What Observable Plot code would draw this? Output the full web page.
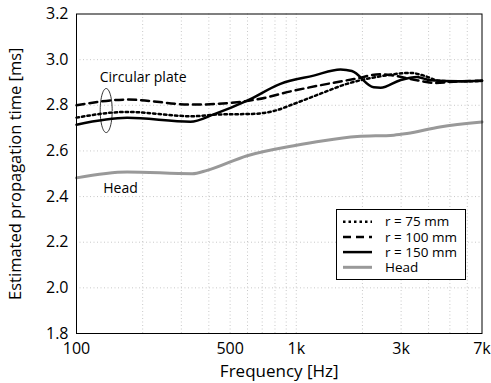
<!DOCTYPE html>
<html><head><meta charset="utf-8">
<script src="https://cdn.jsdelivr.net/npm/d3@7"></script>
<script src="https://cdn.jsdelivr.net/npm/@observablehq/plot@0.6"></script>
<style>
body{margin:0;background:#fff;}
#wrap{position:relative;width:491px;height:383px;font-family:"Open Sans",sans-serif;}
#legend{position:absolute;left:0;top:0;}
</style></head>
<body><div id="wrap"></div>
<script>
const r75Freq = [100,170,336,450,630,791,975,1290,1700,2420,3300,3800,4500,5500,7000];
const r75Val  = [2.746,2.771,2.752,2.760,2.762,2.775,2.806,2.851,2.894,2.927,2.942,2.930,2.907,2.905,2.907];
const r100Freq = [100,170,336,557,664,975,1290,1830,2420,2780,3540,4220,5500,7000];
const r100Val  = [2.800,2.825,2.803,2.815,2.826,2.864,2.888,2.915,2.936,2.930,2.910,2.898,2.905,2.907];
const r150Freq = [100,170,330,421,598,847,1200,1590,1790,2250,2420,2970,3540,4070,5500,7000];
const r150Val  = [2.715,2.745,2.728,2.760,2.820,2.894,2.930,2.957,2.950,2.879,2.877,2.910,2.924,2.910,2.905,2.907];
const headFreq = [100,170,336,393,598,975,1330,1895,2780,3190,4500,7000];
const headVal  = [2.482,2.508,2.500,2.515,2.579,2.623,2.645,2.663,2.669,2.676,2.705,2.727];
const xTicks = [100,500,1000,3000,7000];
const xTickLabels = ["100","500","1k","3k","7k"];
const yTicks = [1.8,2.0,2.2,2.4,2.6,2.8,3.0,3.2];
const gridFreqs = [200,300,400,500,600,700,800,900,1000,2000,3000,4000,5000,6000];
const seriesNames = ["r = 75 mm","r = 100 mm","r = 150 mm","Head"];

const toRows = (f, v) => f.map((d, i) => ({f: d, v: v[i]}));
// ellipse annotation around the plate curves at low frequency
const ell = d3.range(0, 2 * Math.PI + 0.01, 0.1).map(t => ({f: 136.5 * Math.pow(10, 0.0273 * Math.cos(t)), v: 2.777 + 0.0965 * Math.sin(t)}));

const chart = Plot.plot({
  width: 491, height: 383,
  marginLeft: 76, marginRight: 9.5, marginTop: 13.5, marginBottom: 50,
  style: {fontFamily: "Open Sans", fontSize: "16px", background: "#fff", color: "#000", overflow: "visible"},
  x: {type: "log", domain: [100, 7000], axis: null},
  y: {domain: [1.8, 3.2]},
  marks: [
    Plot.ruleX(gridFreqs, {stroke: "#bbb", strokeWidth: 0.8, strokeDasharray: "1,2.5"}),
    Plot.ruleY(yTicks.slice(1, -1), {stroke: "#bbb", strokeWidth: 0.8, strokeDasharray: "1,2.5"}),
    Plot.text(xTicks, {x: d => d, text: (d, i) => xTickLabels[i], frameAnchor: "bottom", lineAnchor: "middle", textAnchor: "middle", dy: 15, fontSize: 16}),
    Plot.axisY({ticks: yTicks, tickFormat: d => d.toFixed(1), tickSize: 0, tickPadding: 8, fontSize: 16, label: null}),
    Plot.text(["Frequency [Hz]"], {frameAnchor: "bottom", textAnchor: "middle", lineAnchor: "middle", dy: 38, fontSize: 17}),
    Plot.text(["Estimated propagation time [ms]"], {frameAnchor: "left", textAnchor: "middle", dx: -61, rotate: -90, fontSize: 16.5}),
    Plot.line(toRows(headFreq, headVal), {x: "f", y: "v", stroke: "#999", strokeWidth: 3, curve: "monotone-x"}),
    Plot.line(toRows(r75Freq, r75Val), {x: "f", y: "v", stroke: "#000", strokeWidth: 2.5, strokeDasharray: "2.5,3", curve: "monotone-x"}),
    Plot.line(toRows(r100Freq, r100Val), {x: "f", y: "v", stroke: "#000", strokeWidth: 2.5, strokeDasharray: "8,5", curve: "monotone-x"}),
    Plot.line(toRows(r150Freq, r150Val), {x: "f", y: "v", stroke: "#000", strokeWidth: 2.5, curve: "monotone-x"}),
    Plot.line(ell, {x: "f", y: "v", stroke: "#000", strokeWidth: 0.8}),
    Plot.text(["Circular plate"], {x: () => 127.6, y: () => 2.923, textAnchor: "start", fontSize: 14}),
    Plot.text(["Head"], {x: () => 132.3, y: () => 2.436, textAnchor: "start", fontSize: 14}),
    Plot.frame({stroke: "#000", strokeWidth: 1})
  ]
});
document.getElementById("wrap").appendChild(chart);

// legend overlay
const styles = [
  {stroke: "#000", dash: "2.5,3", w: 2.5},
  {stroke: "#000", dash: "8,5", w: 2.5},
  {stroke: "#000", dash: null, w: 2.5},
  {stroke: "#999", dash: null, w: 3}
];
const lg = d3.select("#wrap").append("svg").attr("id", "legend").attr("width", 491).attr("height", 383);
lg.append("rect").attr("x", 336.5).attr("y", 209.5).attr("width", 129).attr("height", 70).attr("fill", "#fff").attr("stroke", "#000").attr("stroke-width", 1);
seriesNames.forEach((name, i) => {
  const y = 221.7 + i * 15.2;
  lg.append("line").attr("x1", 343).attr("x2", 372).attr("y1", y).attr("y2", y)
    .attr("stroke", styles[i].stroke).attr("stroke-width", styles[i].w).attr("stroke-dasharray", styles[i].dash);
  lg.append("text").attr("x", 385).attr("y", y).attr("dy", "0.35em").attr("font-size", 13.5).attr("font-family", "Open Sans").text(name);
});
</script></body></html>
